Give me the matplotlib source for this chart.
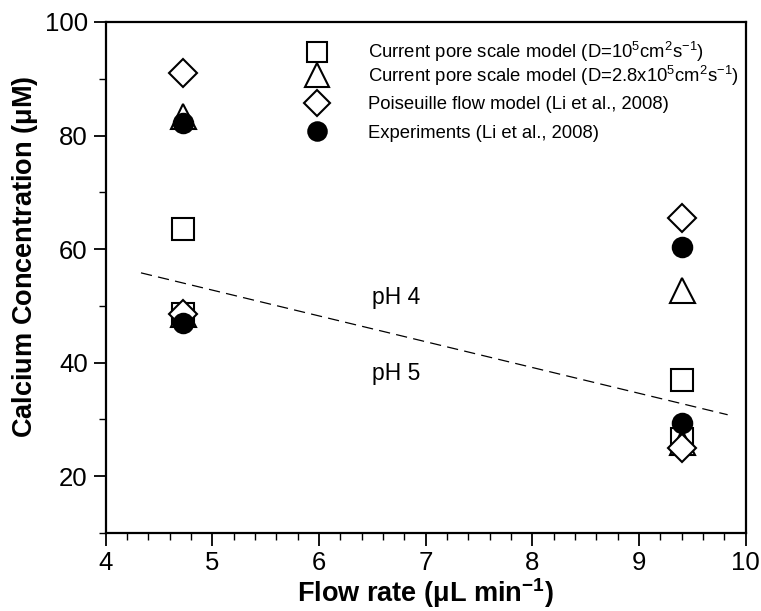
import matplotlib
matplotlib.use("Agg")
import matplotlib.pyplot as plt
from matplotlib.legend import Legend
from matplotlib.ticker import MultipleLocator

plt.rcParams["font.family"] = ["Liberation Sans", "DejaVu Sans"]
plt.rcParams["mathtext.fontset"] = "custom"
plt.rcParams["mathtext.rm"] = "Liberation Sans"
plt.rcParams["mathtext.bf"] = "Liberation Sans:bold"

# ── Data ─────────────────────────────────────────────────────────────────
flow = [4.72, 4.72, 9.4, 9.4]          # pH 4 / pH 5 at each flow rate
pore_d1   = [63.5, 48.5, 37.0, 26.5]   # squares
pore_d28  = [83.5, 48.5, 52.8, 26.0]   # triangles
poiseuille = [91.0, 48.5, 65.5, 25.0]  # diamonds
experiment = [82.2, 47.0, 60.3, 29.3]  # filled circles

split_x = [4.33, 9.83]
split_y = [55.8, 30.8]

labels = [
    r"Current pore scale model (D=10$^{5}$cm$^{2}$s$^{-1}$)",
    r"Current pore scale model (D=2.8x10$^{5}$cm$^{2}$s$^{-1}$)",
    "Poiseuille flow model (Li et al., 2008)",
    "Experiments (Li et al., 2008)",
]

# ── Plot ─────────────────────────────────────────────────────────────────
fig = plt.figure(figsize=(7.61, 6.11), dpi=100)
ax = fig.add_axes([0.139, 0.128, 0.841, 0.836])

kw = dict(linestyle="none", markeredgecolor="black", markeredgewidth=1.5)
h1, = ax.plot(flow, pore_d1, marker="s", markersize=15.5,
              markerfacecolor="white", **kw)
h2, = ax.plot(flow, pore_d28, marker="^", markersize=18,
              markerfacecolor="white", **kw)
h3, = ax.plot(flow, poiseuille, marker="D", markersize=14,
              markerfacecolor="white", **kw)
h4, = ax.plot(flow, experiment, marker="o", markersize=14,
              markerfacecolor="black", **kw)

ax.plot(split_x, split_y, color="black", linewidth=0.9, dashes=(9, 5))
ax.text(6.5, 51.5, "pH 4", fontsize=16.5, va="center")
ax.text(6.5, 38.0, "pH 5", fontsize=16.5, va="center")

ax.set_xlim(4, 10)
ax.set_ylim(10, 100)
ax.xaxis.set_major_locator(MultipleLocator(1))
ax.xaxis.set_minor_locator(MultipleLocator(0.2))
ax.yaxis.set_major_locator(MultipleLocator(20))
ax.yaxis.set_minor_locator(MultipleLocator(10))
ax.tick_params(which="major", direction="out", length=9, width=1.3,
               labelsize=18.5, pad=4)
ax.tick_params(which="minor", direction="out", length=5, width=1.0)
for s in ax.spines.values():
    s.set_linewidth(1.6)

ax.set_xlabel(r"Flow rate ($\mathbf{\mu}$L min$^{\mathbf{-1}}$)",
              fontsize=19.5, fontweight="bold", labelpad=1)
ax.set_ylabel(r"Calcium Concentration ($\mathbf{\mu}$M)",
              fontsize=19.5, fontweight="bold")
ax.yaxis.set_label_coords(-0.103, 0.54)

# one legend per row so the rows stay evenly spaced despite superscripts
row_y = [0.941, 0.895, 0.838, 0.782]
for h, lab, yy in zip([h1, h2, h3, h4], labels, row_y):
    leg = Legend(ax, [h], [lab], loc="center left",
                 bbox_to_anchor=(0.308, yy), frameon=False,
                 fontsize=13.3, handletextpad=2.0, borderpad=0,
                 borderaxespad=0, numpoints=1, markerscale=0.95,
                 handlelength=1.5)
    ax.add_artist(leg)

plt.savefig("out.png", dpi=100)
plt.close()
